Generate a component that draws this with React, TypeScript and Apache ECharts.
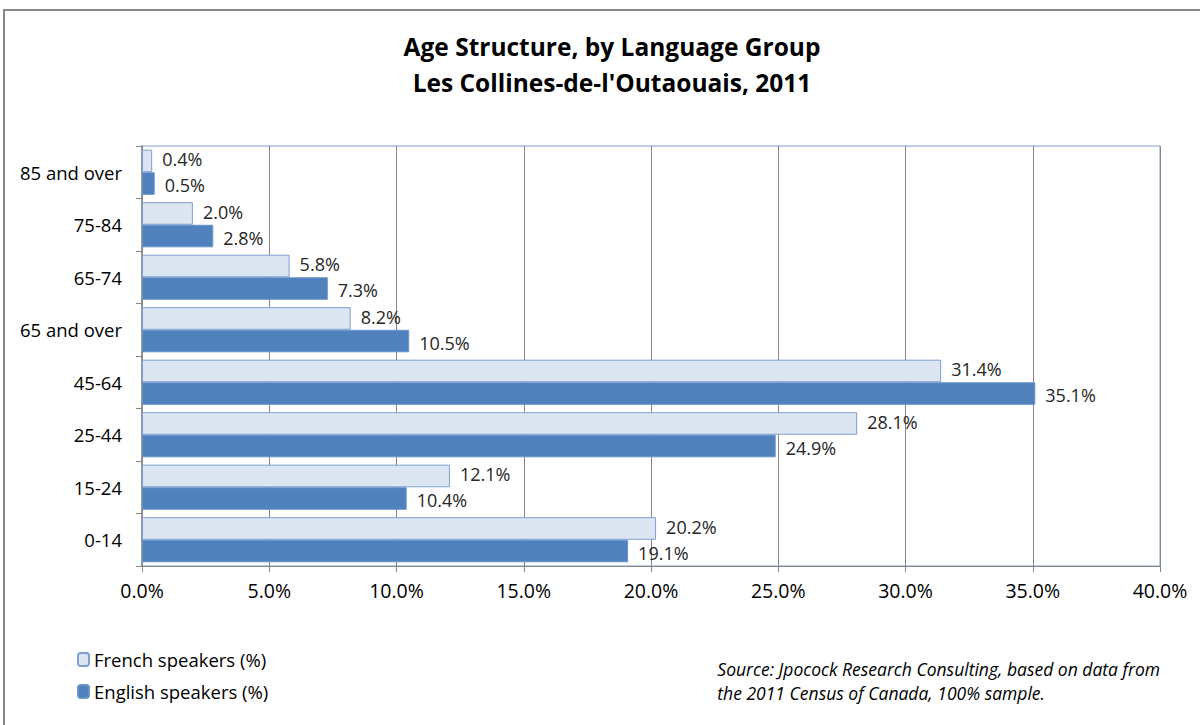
import React, { useEffect, useRef } from "react";
import * as echarts from "echarts";

const categories = ["0-14", "15-24", "25-44", "45-64", "65 and over", "65-74", "75-84", "85 and over"];
const frenchValues = [20.2, 12.1, 28.1, 31.4, 8.2, 5.8, 2.0, 0.4];
const englishValues = [19.1, 10.4, 24.9, 35.1, 10.5, 7.3, 2.8, 0.5];
const seriesNames = ["French speakers (%)", "English speakers (%)"];
const titleLines = ["Age Structure, by Language Group", "Les Collines-de-l'Outaouais, 2011"];
const sourceLines = [
  "Source: Jpocock Research Consulting, based on data from",
  "the 2011 Census of Canada, 100% sample.",
];

const FONT = "'Open Sans', 'Noto Sans', sans-serif";

export default function App() {
  const ref = useRef<HTMLDivElement>(null);
  useEffect(() => {
    if (!ref.current) return;
    const chart = echarts.init(ref.current, null, { renderer: "svg" });
    const labelStyle = (dy: number) => ({
      show: true,
      position: "right" as const,
      distance: 10,
      offset: [0, dy],
      formatter: (p: any) => p.value.toFixed(1) + "%",
      color: "#262626",
      fontSize: 18,
      lineHeight: 19,
      fontFamily: FONT,
    });
    chart.setOption({
      animation: false,
      backgroundColor: "#ffffff",
      textStyle: { fontFamily: FONT },
      title: {
        text: titleLines.join("\n"),
        left: 607,
        textAlign: "center",
        top: 23,
        textStyle: { fontSize: 24.5, fontWeight: "bold", color: "#000", lineHeight: 36, fontFamily: FONT },
      },
      legend: {
        data: seriesNames,
        orient: "vertical",
        left: 72,
        top: 645,
        itemWidth: 11,
        itemHeight: 13,
        itemGap: 13,
        textStyle: { fontSize: 18.5, color: "#000", fontFamily: FONT },
      },
      graphic: [
        {
          type: "rect",
          shape: { x: 4, y: 10, width: 1220, height: 740 },
          style: { fill: "none", stroke: "#868686", lineWidth: 2 },
        },
        {
          type: "text",
          right: 40,
          top: 657,
          style: {
            text: sourceLines.join("\n"),
            font: "italic 17.5px " + FONT,
            fill: "#000",
            lineHeight: 24,
            textAlign: "left",
          },
        },
      ],
      grid: {
        left: 142,
        right: 40,
        top: 146,
        bottom: 159,
        show: true,
        borderColor: "#7f9fcf",
        borderWidth: 1,
        containLabel: false,
      },
      xAxis: {
        type: "value",
        min: 0,
        max: 40,
        interval: 5,
        axisLabel: {
          formatter: (v: number) => v.toFixed(1) + "%",
          fontSize: 19.5,
          color: "#000",
          margin: 14,
          fontFamily: FONT,
        },
        axisLine: { show: true, lineStyle: { color: "#868686", width: 1 } },
        axisTick: { show: true, length: 6, lineStyle: { color: "#868686" } },
        splitLine: { show: true, lineStyle: { color: "#868686", width: 1 } },
      },
      yAxis: {
        type: "category",
        data: categories,
        axisLabel: { fontSize: 18.5, color: "#000", margin: 20, fontFamily: FONT },
        axisLine: { show: true, lineStyle: { color: "#868686", width: 1.5 } },
        axisTick: { show: true, length: 6, lineStyle: { color: "#868686" } },
        splitLine: { show: false },
      },
      series: [
        {
          name: seriesNames[0],
          type: "bar",
          data: frenchValues,
          barGap: "0%",
          barCategoryGap: "14%",
          itemStyle: { color: "#dce6f2", borderColor: "#7f9fcf", borderWidth: 1 },
          label: labelStyle(-1.5),
        },
        {
          name: seriesNames[1],
          type: "bar",
          data: englishValues,
          barGap: "0%",
          barCategoryGap: "14%",
          itemStyle: { color: "#4f81bd", borderColor: "#6a93c9", borderWidth: 1 },
          label: labelStyle(1.5),
        },
      ],
    });
    return () => chart.dispose();
  }, []);
  return (
    <div
      ref={ref}
      style={{ position: "fixed", left: 0, top: 0, width: 1200, height: 725 }}
    />
  );
}
